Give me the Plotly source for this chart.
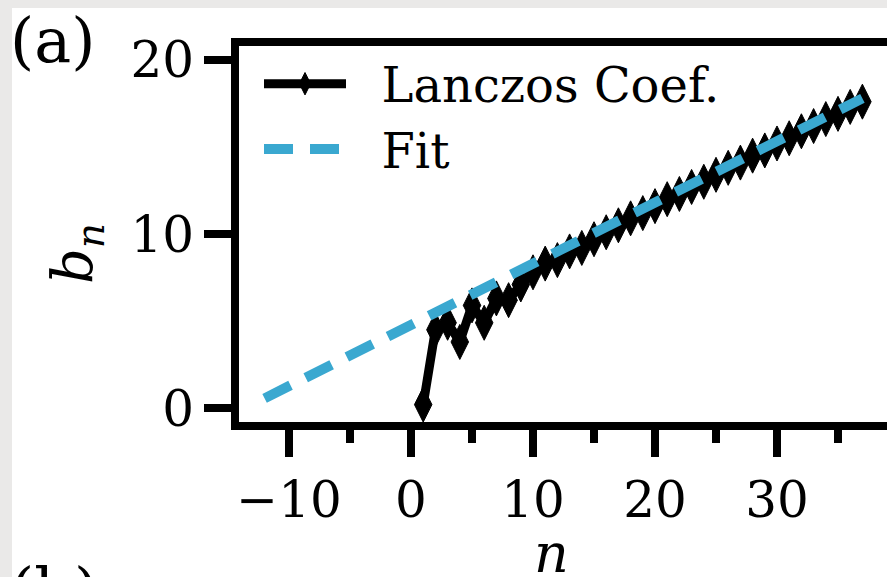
import plotly.graph_objects as go

# ---------------- data ----------------
n_vals = list(range(1, 38))
b_vals = [0.2, 4.5, 4.9, 3.8, 5.9, 4.9, 6.3, 6.2, 7.1, 7.8,
          8.3, 8.5, 9.0, 9.2, 9.7, 10.1, 10.5, 10.9, 11.2, 11.6,
          12.0, 12.3, 12.7, 13.0, 13.4, 13.8, 14.1, 14.5, 14.8, 15.2,
          15.5, 15.9, 16.2, 16.6, 16.9, 17.3, 17.6]
fit_n = [-12, 37]
fit_b = [0.56, 17.79]
x_ticks = [-10, 0, 10, 20, 30]
y_ticks = [0, 10, 20]
series_names = ["Lanczos Coef.", "Fit"]

# ---------------- geometry (pixels) ----------------
FW, FH = 887, 577
L, R, T, B = 239, 0, 46, 155
W = FW - L - R
H = FH - T - B
X0PX, XPU = 411.0, 12.2      # pixel of n=0, px per unit
Y0PX, YPU = 408.1, 17.41     # pixel of b=0, px per unit

xr = [(L - X0PX) / XPU, (L + W - X0PX) / XPU]
yr = [(Y0PX - (T + H)) / YPU, (Y0PX - T) / YPU]

def px(x):
    return (x - L) / W

def py(y):
    return 1 - (y - T) / H

BLUE = "#3AA8D0"
FONT = "DejaVu Serif"
GAP = "\u00a0\u00a0"

fig = go.Figure()
fig.add_trace(go.Scatter(
    x=n_vals, y=b_vals, mode="lines+markers", name=GAP + series_names[0],
    line=dict(color="black", width=9),
    marker=dict(symbol="diamond-tall", size=25, color="black",
                line=dict(color="black", width=1)),
))
fig.add_trace(go.Scatter(
    x=fit_n, y=fit_b, mode="lines", name=GAP + series_names[1],
    line=dict(color=BLUE, width=10, dash="29px,17px"),
))

axis_common = dict(
    showgrid=False, zeroline=False, showline=True, linecolor="black",
    linewidth=8, ticks="outside", tickcolor="black", tickwidth=8,
    tickfont=dict(family=FONT, size=50, color="black"),
)
fig.update_xaxes(range=xr, tickvals=x_ticks, ticklen=27, mirror=True,
                 minor=dict(dtick=5, tick0=0, ticks="outside", ticklen=13,
                            tickwidth=8, tickcolor="black"),
                 **axis_common)
fig.update_yaxes(range=yr, tickvals=y_ticks, ticklen=27, **axis_common)

annotations = [
    dict(text="(a)", x=px(8), y=py(2), xanchor="left", yanchor="top",
         font=dict(family=FONT, size=62, color="black")),
    dict(text="(b)", x=px(8), y=py(552), xanchor="left", yanchor="top",
         font=dict(family=FONT, size=62, color="black")),
    dict(text="<i>b</i><sub><i>n</i></sub>", x=px(76), y=py(254),
         xanchor="center", yanchor="middle", textangle=-90,
         font=dict(family=FONT, size=56, color="black")),
    dict(text="<i>n</i>", x=px(551), y=py(553), xanchor="center",
         yanchor="middle", font=dict(family=FONT, size=54, color="black")),
]
for a in annotations:
    a.update(xref="paper", yref="paper", showarrow=False)

fig.update_layout(
    width=FW, height=FH,
    margin=dict(l=L, r=R, t=T, b=B),
    paper_bgcolor="#EAE9E8", plot_bgcolor="white",
    showlegend=True,
    legend=dict(x=px(259), y=py(46), xanchor="left", yanchor="top",
                bgcolor="rgba(0,0,0,0)", borderwidth=0, itemwidth=82,
                font=dict(family=FONT, size=48, color="black"),
                tracegroupgap=0),
    annotations=annotations,
    shapes=[dict(type="rect", xref="paper", yref="paper",
                 x0=px(12), x1=px(FW + 5), y0=py(FH + 5), y1=py(8),
                 fillcolor="white", line=dict(width=0), layer="below")],
)

fig.write_html("out.html")
